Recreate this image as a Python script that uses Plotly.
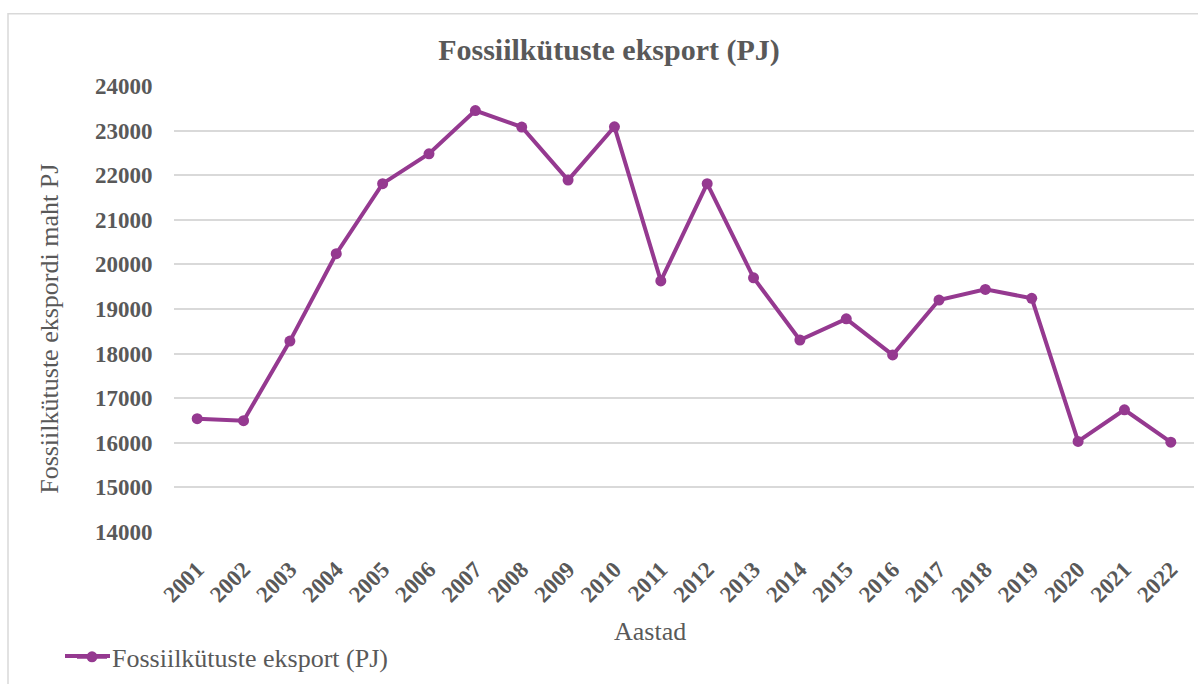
import plotly.graph_objects as go

# Fossil fuel export volume by year, PJ
years = ["2001", "2002", "2003", "2004", "2005", "2006", "2007", "2008", "2009", "2010", "2011",
         "2012", "2013", "2014", "2015", "2016", "2017", "2018", "2019", "2020", "2021", "2022"]
export_pj = [16540, 16495, 18280, 20240, 21810, 22480, 23450, 23080, 21890, 23085, 19630,
             21810, 19700, 18305, 18780, 17970, 19200, 19440, 19240, 16030, 16740, 16015]
y_ticks = [14000, 15000, 16000, 17000, 18000, 19000, 20000, 21000, 22000, 23000, 24000]

series_name = "Fossiilkütuste eksport (PJ)"
chart_title = "Fossiilkütuste eksport (PJ)"
y_title = "Fossiilkütuste ekspordi maht PJ"
x_title = "Aastad"

W, H = 1198, 684
L, R, T, B = 174, 4, 86, 148
plot_w = W - L - R
plot_h = H - T - B

FONT = "Liberation Serif, Times New Roman, serif"
GREY = "#595959"
PURPLE = "#953990"


def px_x(p):
    return (p - L) / plot_w


def px_y(p):
    return (H - B - p) / plot_h


fig = go.Figure()
fig.add_trace(go.Scatter(
    x=years, y=export_pj, name=series_name, mode="lines+markers",
    line=dict(color=PURPLE, width=4),
    marker=dict(color=PURPLE, size=11),
))

fig.update_layout(
    width=W, height=H,
    margin=dict(l=L, r=R, t=T, b=B),
    paper_bgcolor="white", plot_bgcolor="white",
    font=dict(family=FONT, color=GREY),
    title=dict(text="<b>" + chart_title + "</b>", x=609 / W, xref="container", xanchor="center",
               y=1 - 49 / H, yref="container", yanchor="middle",
               font=dict(family=FONT, size=30, color=GREY)),
    showlegend=True,
    legend=dict(x=px_x(72), y=px_y(662), xanchor="left", yanchor="middle",
                orientation="h", font=dict(family=FONT, size=26, color=GREY),
                bgcolor="rgba(0,0,0,0)", itemwidth=30),
    xaxis=dict(type="category", range=[-0.5, len(years) - 0.5], autorange=False,
               showgrid=False, showline=False, zeroline=False,
               tickangle=-45, ticks="outside", ticklen=14, tickcolor="rgba(0,0,0,0)",
               tickfont=dict(family=FONT, size=23, color=GREY, weight="bold")),
    yaxis=dict(range=[14000, 24000], tickvals=y_ticks, tickformat="d", showgrid=True,
               gridcolor="#d9d9d9", gridwidth=1.5, zeroline=False, showline=False,
               ticks="outside", ticklen=16, tickcolor="rgba(0,0,0,0)",
               tickfont=dict(family=FONT, size=23, color=GREY, weight="bold")),
    annotations=[
        dict(text=y_title, textangle=-90, x=px_x(50), y=px_y(331), xref="paper", yref="paper",
             xanchor="center", yanchor="middle", showarrow=False,
             font=dict(family=FONT, size=26, color=GREY)),
        dict(text=x_title, x=px_x(650), y=px_y(636), xref="paper", yref="paper",
             xanchor="center", yanchor="middle", showarrow=False,
             font=dict(family=FONT, size=26, color=GREY)),
    ],
    shapes=[
        dict(type="rect", xref="paper", yref="paper",
             x0=px_x(8), x1=px_x(1215), y0=px_y(700), y1=px_y(13),
             line=dict(color="#d9d9d9", width=1.5), fillcolor="rgba(0,0,0,0)", layer="below"),
        # legend swatch line, drawn at full length behind the legend marker
        dict(type="line", xref="paper", yref="paper",
             x0=px_x(65), x1=px_x(110), y0=px_y(661), y1=px_y(661),
             line=dict(color=PURPLE, width=4)),
    ],
)

fig.write_html("out.html")
